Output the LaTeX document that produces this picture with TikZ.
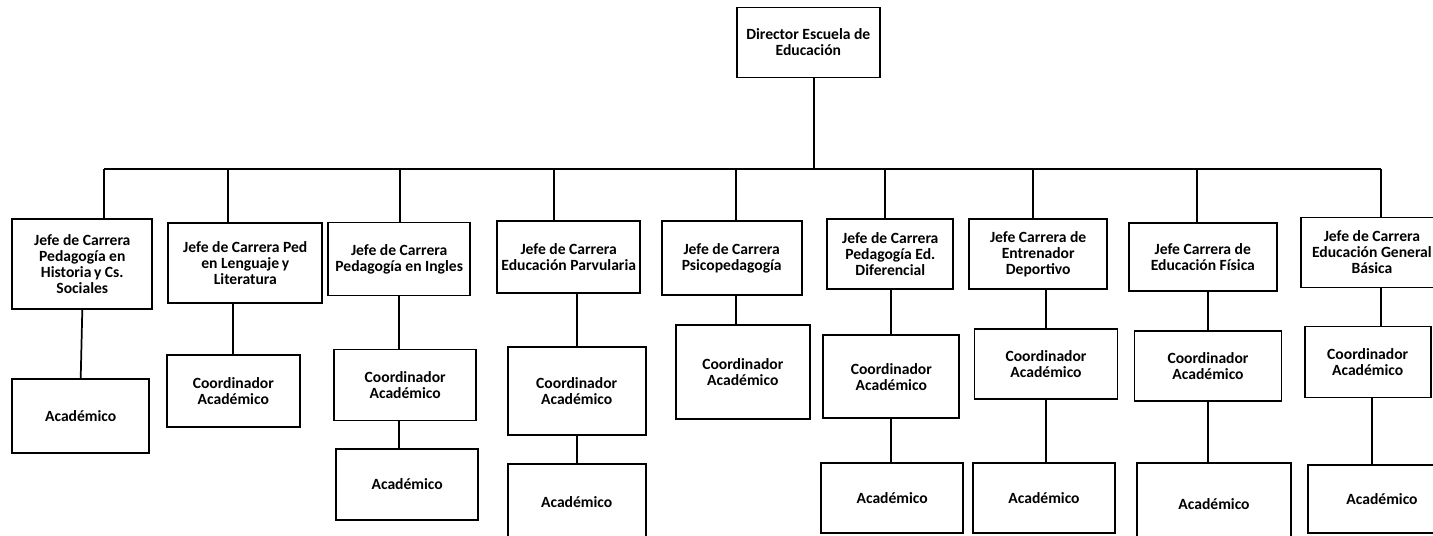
\documentclass[tikz,border=0pt]{standalone}
\usepackage{fontspec}
\setmainfont{Carlito}
\tikzset{
  caja/.style={draw, line width=1.3pt, align=center, font=\fontsize{11.7}{12}\selectfont\bfseries, inner sep=1pt},
  tam/.style 2 args={minimum width=#1*0.75pt, minimum height=#2*0.75pt}
}
\begin{document}
\begin{tikzpicture}[x=0.75pt, y=-0.75pt, every node/.style={caja}, line width=1.3pt]
      \useasboundingbox (0,0) rectangle (1433,535);
      \draw
        (808.3,42.5) node[tam={143}{70}] (dir){Director Escuela de\\Educación}
        (82.3,264.2) node[tam={140}{90}] (j1){Jefe de Carrera\\Pedagogía en\\Historia\,y Cs.\\Sociales}
        (245.3,263.3) node[tam={154}{80}] (j2){Jefe de Carrera Ped\\en Lenguaje\,y\\Literatura}
        (399.2,259) node[tam={142}{73}] (j3){Jefe de Carrera\\Pedagogía en Ingles}
        (568.7,257.2) node[tam={143}{72}] (j4){Jefe de Carrera\\Educación Parvularia}
        (731.7,258.2) node[tam={140}{74}] (j5){Jefe de Carrera\\Psicopedagogía}
        (890.3,254.3) node[tam={126}{70}] (j6){Jefe de Carrera\\Pedagogía Ed.\\Diferencial}
        (1038.2,254.3) node[tam={138}{70}] (j7){Jefe Carrera de\\Entrenador\\Deportivo}
        (1202.8,257.2) node[tam={148}{68}] (j8){Jefe Carrera de\\Educación Física}
        (1371.9,252.5) node[tam={142}{70}] (j9){Jefe de Carrera\\Educación General\\Básica}
        (80.7,416.2) node[tam={137}{74}] (a1){Académico}
        (233.3,390.8) node[tam={133}{72}] (c2){Coordinador\\Académico}
        (405.2,385) node[tam={142}{71}] (c3){Coordinador\\Académico}
        (407.2,484.5) node[tam={142}{71}] (a3){Académico}
        (576.7,391.2) node[tam={138}{88}] (c4){Coordinador\\Académico}
        (576.7,502) node[tam={138}{76}] (a4){Académico}
        (742.8,371.8) node[tam={134}{94}] (c5){Coordinador\\Académico}
        (891.3,376.7) node[tam={136}{83}] (c6){Coordinador\\Académico}
        (892.2,498.2) node[tam={142}{70}] (a6){Académico}
        (1046,364) node[tam={143}{70}] (c7){Coordinador\\Académico}
        (1044,497.8) node[tam={142}{70}] (a7){Académico}
        (1208,365.8) node[tam={147}{70}] (c8){Coordinador\\Académico}
        (1214,503.8) node[tam={154}{82}] (a8){Académico}
        (1367.7,362) node[tam={126}{71}] (c9){Coordinador\\Académico}
        (1382,499) node[tam={148}{68}] (a9){Académico};
      % puntos del bus
      \coordinate (d0) at (813.7,169);
      \coordinate (d1) at (104.3,169);
      \coordinate (d2) at (228.3,169);
      \coordinate (d3) at (400,169);
      \coordinate (d4) at (554,169);
      \coordinate (d5) at (736,169);
      \coordinate (d6) at (885.3,169);
      \coordinate (d7) at (1033,169);
      \coordinate (d8) at (1197,169);
      \coordinate (d9) at (1380.7,169);
      \begin{scope}[-]
        \draw (d0 |- dir.south) to (d0);
        \draw (d1) to (d9);
        \draw (d1) to (d1 |- j1.north);
        \draw (d2) to (d2 |- j2.north);
        \draw (d3) to (d3 |- j3.north);
        \draw (d4) to (d4 |- j4.north);
        \draw (d5) to (d5 |- j5.north);
        \draw (d6) to (d6 |- j6.north);
        \draw (d7) to (d7 |- j7.north);
        \draw (d8) to (d8 |- j8.north);
        \draw (d9) to (d9 |- j9.north);
        \draw (j1.south) to (a1.north);
        \draw (c2.north |- j2.south) to (c2.north);
        \draw (j3.south) to (j3.south |- c3.north);
        \draw (j3.south |- c3.south) to (j3.south |- a3.north);
        \draw (c4.north |- j4.south) to (c4.north);
        \draw (c4.south) to (a4.north);
        \draw (d5 |- j5.south) to (d5 |- c5.north);
        \draw (c6.north |- j6.south) to (c6.north);
        \draw (c6.south) to (c6.south |- a6.north);
        \draw (c7.north |- j7.south) to (c7.north);
        \draw (c7.south) to (c7.south |- a7.north);
        \draw (c8.north |- j8.south) to (c8.north);
        \draw (c8.south) to (c8.south |- a8.north);
        \draw (d9 |- j9.south) to (d9 |- c9.north);
        \draw (j9.south |- c9.south) to (j9.south |- a9.north);
      \end{scope}
    \end{tikzpicture}
\end{document}
